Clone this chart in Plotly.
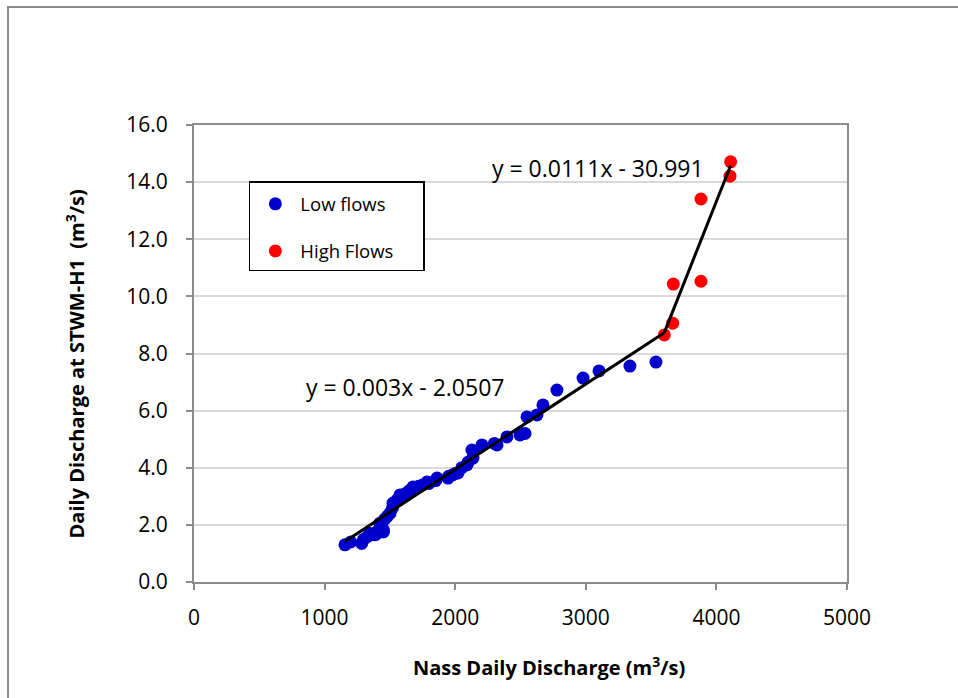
import plotly.graph_objects as go

# Low flows (blue)
low_x = [1156, 1200, 1284, 1300, 1330, 1350, 1386, 1400, 1400, 1420, 1424, 1430, 1440, 1450, 1450,
         1460, 1480, 1501, 1520, 1524, 1540, 1560, 1577, 1600, 1620, 1650, 1677, 1700, 1720, 1750,
         1784, 1800, 1850, 1861, 1945, 1950, 1980, 2000, 2022, 2050, 2090, 2100, 2128, 2136, 2140,
         2205, 2300, 2320, 2396, 2496, 2500, 2535, 2550, 2626, 2672, 2779, 2979, 3101, 3338, 3537]
low_y = [1.30, 1.40, 1.35, 1.50, 1.60, 1.70, 1.65, 1.75, 1.70, 1.85, 2.06, 1.80, 1.90, 1.82, 1.75,
         2.20, 2.30, 2.41, 2.60, 2.76, 2.80, 2.90, 3.05, 3.00, 3.10, 3.20, 3.33, 3.30, 3.35, 3.40,
         3.50, 3.45, 3.55, 3.64, 3.64, 3.70, 3.75, 3.80, 3.82, 4.00, 4.10, 4.20, 4.62, 4.34, 4.55,
         4.80, 4.85, 4.80, 5.08, 5.15, 5.20, 5.20, 5.78, 5.85, 6.20, 6.72, 7.14, 7.39, 7.56, 7.70]

# High flows (red)
high_x = [3601, 3665, 3670, 3882, 3882, 4104, 4109]
high_y = [8.65, 9.06, 10.43, 10.53, 13.41, 14.21, 14.71]

# Trend line endpoints
low_line_x = [1156, 3601]
low_line_y = [1.42, 8.73]
high_line_x = [3601, 4109]
high_line_y = [8.73, 14.58]

eq_low = "y = 0.003x - 2.0507"
eq_high = "y = 0.0111x - 30.991"

FONT = "Open Sans"
SP = "&nbsp;"

fig = go.Figure()
fig.add_trace(go.Scatter(x=low_x, y=low_y, mode="markers", name="Low flows" + SP * 6,
                         legendgroup="a",
                         marker=dict(color="#0000CC", size=13)))
fig.add_trace(go.Scatter(x=high_x, y=high_y, mode="markers", name="High Flows" + SP * 5,
                         legendgroup="b",
                         marker=dict(color="#FF0000", size=13)))
fig.add_trace(go.Scatter(x=low_line_x, y=low_line_y, mode="lines", showlegend=False,
                         line=dict(color="black", width=3)))
fig.add_trace(go.Scatter(x=high_line_x, y=high_line_y, mode="lines", showlegend=False,
                         line=dict(color="black", width=3)))

fig.add_annotation(x=1616, y=6.82, text=eq_low, showarrow=False,
                   font=dict(family=FONT, size=23, color="black"))
fig.add_annotation(x=3093, y=14.49, text=eq_high, showarrow=False,
                   font=dict(family=FONT, size=23, color="black"))

# outer chart border (extends past the window on right/bottom)
fig.add_shape(type="rect", xref="paper", yref="paper",
              x0=-0.2848, x1=1.2, y0=-0.3, y1=1.258,
              line=dict(color="#8c8c8c", width=2), fillcolor="rgba(0,0,0,0)", layer="below")

fig.update_layout(
    width=958, height=698,
    margin=dict(l=194, r=111, t=125, b=116),
    paper_bgcolor="white", plot_bgcolor="white",
    font=dict(family=FONT, size=21, color="black"),
    showlegend=True,
    legend=dict(x=0.084, y=0.877, xanchor="left", yanchor="top",
                bordercolor="black", borderwidth=1.5, bgcolor="white",
                font=dict(family=FONT, size=18.5),
                title=dict(text=" ", font=dict(size=2)),
                tracegroupgap=20, traceorder="grouped", itemwidth=40),
    xaxis=dict(range=[0, 5000], dtick=1000, tick0=0, showgrid=False,
               showline=True, linecolor="#8c8c8c", linewidth=2, mirror=True,
               ticks="outside", ticklen=6, tickcolor="#8c8c8c", tickwidth=2,
               tickfont=dict(family=FONT, size=21), zeroline=False,
               ticklabelstandoff=10,
               title=dict(text=SP * 11 + "<b>Nass Daily Discharge (m<sup>3</sup>/s)</b>",
                          font=dict(family=FONT, size=20), standoff=31)),
    yaxis=dict(range=[0, 16], dtick=2, tick0=0, tickformat=".1f",
               showgrid=True, gridcolor="#d9d9d9", gridwidth=2,
               showline=True, linecolor="#8c8c8c", linewidth=2, mirror=True,
               ticks="outside", ticklen=6, tickcolor="#8c8c8c", tickwidth=2,
               tickfont=dict(family=FONT, size=21), zeroline=False,
               ticklabelstandoff=14,
               title=dict(text="<b>Daily Discharge at STWM-H1&nbsp;&nbsp;(m<sup>3</sup>/s)</b>" + SP * 4,
                          font=dict(family=FONT, size=20), standoff=36)),
)

fig.write_html("out.html")
